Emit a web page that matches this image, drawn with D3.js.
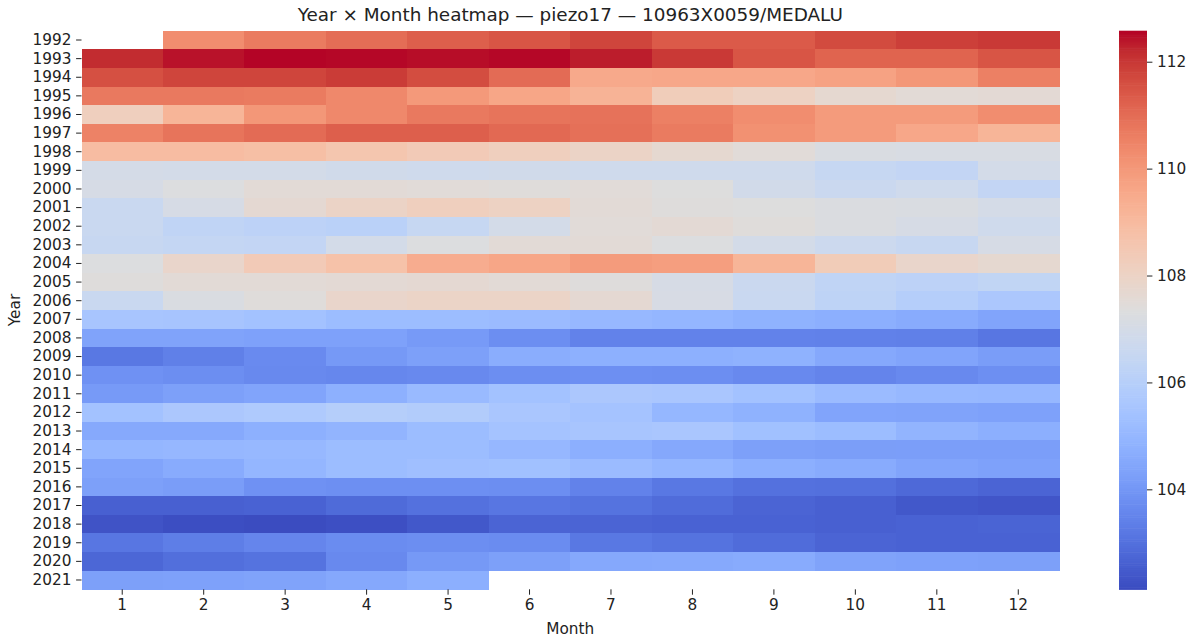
<!DOCTYPE html>
<html>
<head>
<meta charset="utf-8">
<script src="https://cdn.jsdelivr.net/npm/d3@7"></script>
<style>
  html, body { margin: 0; padding: 0; background: #fff; }
  svg { display: block; font-family: "DejaVu Sans", sans-serif; }
</style>
</head>
<body>
<svg id="chart" width="1196" height="640"></svg>
<script>
// Monthly mean groundwater level per year (null = no measurement)
const years = d3.range(1992, 2022);
const months = [1, 2, 3, 4, 5, 6, 7, 8, 9, 10, 11, 12];
const levels = [
  [null, 110.3, 110.7, 111.0, 111.3, 111.5, 111.8, 111.4, 111.4, 111.7, 111.9, 112.0],
  [112.2, 112.45, 112.58, 112.55, 112.5, 112.55, 112.35, 112.0, 111.5, 111.2, 111.2, 111.5],
  [111.6, 111.8, 111.8, 111.95, 111.65, 111.05, 109.55, 109.6, 109.6, 109.75, 110.05, 110.6],
  [110.75, 110.75, 110.7, 110.4, 110.0, 109.65, 109.25, 108.3, 108.05, 107.7, 107.55, 107.6],
  [108.2, 109.2, 110.05, 110.4, 110.75, 110.85, 110.9, 110.6, 110.3, 109.95, 109.95, 110.3],
  [110.55, 110.85, 111.05, 111.3, 111.3, 111.1, 110.95, 110.7, 110.2, 109.95, 109.6, 109.2],
  [108.95, 108.95, 108.85, 108.6, 108.4, 108.2, 107.98, 107.7, 107.5, 107.2, 107.15, 107.15],
  [107.0, 106.95, 106.95, 106.85, 106.8, 106.85, 106.8, 106.8, 106.8, 106.5, 106.4, 106.95],
  [107.05, 107.3, 107.55, 107.55, 107.5, 107.45, 107.5, 107.35, 106.9, 106.65, 106.8, 106.4],
  [106.6, 107.05, 107.65, 107.98, 108.2, 108.05, 107.55, 107.4, 107.35, 107.25, 107.2, 107.0],
  [106.6, 106.3, 106.2, 106.1, 106.5, 106.95, 107.5, 107.6, 107.45, 107.25, 107.05, 106.8],
  [106.55, 106.45, 106.4, 106.95, 107.3, 107.55, 107.55, 107.3, 106.95, 106.7, 106.55, 107.05],
  [107.3, 107.85, 108.4, 108.75, 109.45, 109.65, 109.95, 109.85, 109.2, 108.35, 107.85, 107.7],
  [107.4, 107.55, 107.55, 107.6, 107.65, 107.55, 107.4, 107.05, 106.65, 106.3, 106.2, 106.35],
  [106.6, 107.2, 107.45, 107.85, 107.95, 107.95, 107.65, 107.1, 106.6, 106.25, 105.95, 105.65],
  [105.55, 105.5, 105.4, 105.2, 105.2, 105.15, 105.05, 104.95, 104.8, 104.7, 104.6, 104.4],
  [104.37, 104.35, 104.3, 104.3, 104.1, 103.75, 103.44, 103.44, 103.44, 103.4, 103.38, 103.13],
  [103.18, 103.38, 103.65, 104.05, 104.27, 104.65, 104.75, 104.75, 104.8, 104.5, 104.4, 104.17],
  [103.85, 103.75, 103.62, 103.58, 103.62, 103.75, 103.8, 103.75, 103.62, 103.5, 103.62, 103.8],
  [104.1, 104.27, 104.4, 104.75, 105.1, 105.4, 105.65, 105.6, 105.4, 105.15, 105.05, 105.0],
  [105.4, 105.65, 105.75, 105.95, 105.85, 105.6, 105.45, 104.98, 104.8, 104.4, 104.37, 104.3],
  [104.53, 104.53, 104.75, 104.9, 105.2, 105.45, 105.55, 105.6, 105.35, 105.2, 104.9, 104.7],
  [104.95, 105.0, 105.05, 105.2, 105.2, 105.0, 104.7, 104.5, 104.27, 104.2, 104.22, 104.22],
  [104.4, 104.6, 104.95, 105.2, 105.3, 105.35, 105.15, 104.95, 104.7, 104.6, 104.4, 104.3],
  [104.27, 104.17, 103.85, 103.8, 103.8, 103.75, 103.44, 103.18, 103.02, 102.98, 102.8, 102.7],
  [102.6, 102.6, 102.65, 102.85, 103.02, 103.13, 103.05, 102.88, 102.7, 102.6, 102.4, 102.35],
  [102.3, 102.18, 102.13, 102.2, 102.4, 102.7, 102.7, 102.65, 102.65, 102.6, 102.65, 102.68],
  [103.13, 103.33, 103.52, 103.7, 103.75, 103.7, 103.18, 103.05, 102.88, 102.7, 102.65, 102.65],
  [102.75, 102.95, 103.05, 103.62, 104.05, 104.27, 104.5, 104.53, 104.6, 104.37, 104.3, 104.27],
  [104.27, 104.3, 104.37, 104.5, 104.7, null, null, null, null, null, null, null]
];
const colorbarTicks = [104, 106, 108, 110, 112];

// Moreland's cool-warm diverging map, 33 control colours
const coolwarmStops = [
  [59,76,192],[68,90,204],[77,104,215],[87,117,225],[98,130,234],[108,142,241],
  [119,154,247],[130,165,251],[141,176,254],[152,185,255],[163,194,255],[174,201,253],
  [184,208,249],[194,213,244],[204,217,238],[213,219,230],[221,221,221],[229,216,209],
  [236,211,197],[241,204,185],[245,196,173],[247,187,160],[247,177,148],[247,166,135],
  [244,154,123],[241,141,111],[236,127,99],[229,112,88],[222,96,77],[213,80,66],
  [203,62,56],[192,40,47],[180,4,38]
].map(c => d3.rgb(c[0], c[1], c[2]).toString());
const coolwarm = d3.piecewise(d3.interpolateRgb, coolwarmStops);

const cells = [];
years.forEach((y, i) => months.forEach((m, j) => {
  const v = levels[i][j];
  if (v != null) cells.push({ year: y, month: m, value: v });
}));

const svg = d3.select("#chart");
const plot = { left: 81.5, right: 1059, top: 30.7, bottom: 589.3 };
const bar = { left: 1119, right: 1147 };
const fontSize = 15.3;
const tickLen = 5.4;
const tickPad = 4.6;

const x = d3.scaleBand().domain(months).range([plot.left, plot.right]);
const y = d3.scaleBand().domain(years).range([plot.top, plot.bottom]);
const color = d3.scaleSequential(coolwarm).domain(d3.extent(cells, d => d.value));

// Heatmap cells
svg.append("g")
  .selectAll("rect")
  .data(cells)
  .join("rect")
  .attr("x", d => x(d.month))
  .attr("y", d => y(d.year))
  .attr("width", x.bandwidth() + 0.5)
  .attr("height", y.bandwidth() + 0.5)
  .attr("fill", d => color(d.value))
  .attr("shape-rendering", "crispEdges");

function styleAxis(g) {
  g.select(".domain").remove();
  g.selectAll(".tick line").attr("stroke", "#222").attr("stroke-width", 1);
  g.selectAll(".tick text").attr("font-size", fontSize).attr("fill", "#222")
    .attr("font-family", "DejaVu Sans, sans-serif");
}

// Axes
svg.append("g")
  .attr("transform", `translate(0,${plot.bottom})`)
  .call(d3.axisBottom(x).tickSize(tickLen).tickPadding(tickPad))
  .call(styleAxis);
svg.append("g")
  .attr("transform", `translate(${plot.left},0)`)
  .call(d3.axisLeft(y).tickSize(tickLen).tickPadding(tickPad))
  .call(styleAxis);

// Axis titles and chart title
svg.append("text")
  .attr("x", (plot.left + plot.right) / 2).attr("y", 634)
  .attr("text-anchor", "middle").attr("font-size", fontSize).attr("fill", "#222")
  .text("Month");
svg.append("text")
  .attr("transform", `translate(20,${(plot.top + plot.bottom) / 2}) rotate(-90)`)
  .attr("text-anchor", "middle").attr("font-size", fontSize).attr("fill", "#222")
  .text("Year");
svg.append("text")
  .attr("x", (plot.left + plot.right) / 2).attr("y", 21)
  .attr("text-anchor", "middle").attr("font-size", 18.4).attr("fill", "#222")
  .text("Year × Month heatmap — piezo17 — 10963X0059/MEDALU");

// Colour bar
const cb = d3.scaleLinear().domain(color.domain()).range([plot.bottom, plot.top]);
const steps = d3.range(0, 256).map(k => color.domain()[0] + (color.domain()[1] - color.domain()[0]) * k / 255);
const stepH = (plot.bottom - plot.top) / 256;
svg.append("g")
  .selectAll("rect")
  .data(steps)
  .join("rect")
  .attr("x", bar.left)
  .attr("width", bar.right - bar.left)
  .attr("y", (d, k) => plot.bottom - (k + 1) * stepH)
  .attr("height", stepH + 0.6)
  .attr("fill", d => color(d));

svg.append("g")
  .attr("transform", `translate(${bar.right},0)`)
  .call(d3.axisRight(cb).tickValues(colorbarTicks).tickSize(tickLen).tickPadding(tickPad))
  .call(styleAxis);
</script>
</body>
</html>
